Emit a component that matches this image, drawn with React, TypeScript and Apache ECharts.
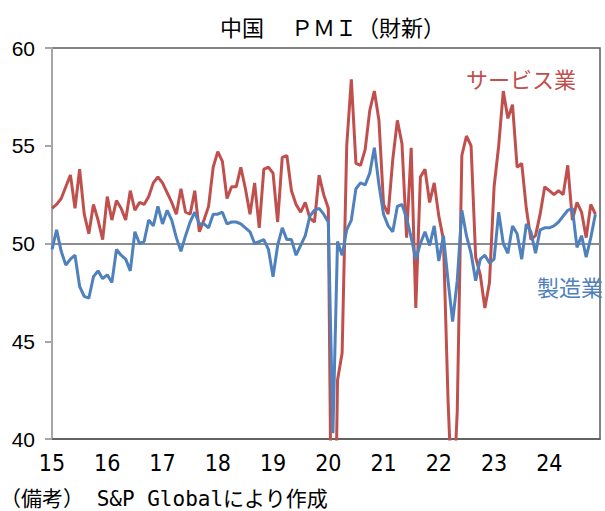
import React, { useEffect, useRef } from "react";
import * as echarts from "echarts";

// Years shown on the axis (first month of each year is labelled)
const years: number[] = [2015, 2016, 2017, 2018, 2019, 2020, 2021, 2022, 2023, 2024];
const monthNums: string[] = ["01", "02", "03", "04", "05", "06", "07", "08", "09", "10", "11", "12"];

// Caixin China PMI, Jan 2015 - Nov 2024
const manufacturing: number[] = [
  // 2015
  49.7, 50.7, 49.6, 48.9, 49.2, 49.4, 47.8, 47.3, 47.2, 48.3, 48.6, 48.2,
  // 2016
  48.4, 48.0, 49.7, 49.4, 49.2, 48.6, 50.6, 50.0, 50.1, 51.2, 50.9, 51.9,
  // 2017
  51.0, 51.7, 51.2, 50.3, 49.6, 50.4, 51.1, 51.6, 51.0, 51.0, 50.8, 51.5,
  // 2018
  51.5, 51.6, 51.0, 51.1, 51.1, 51.0, 50.8, 50.6, 50.0, 50.1, 50.2, 49.7,
  // 2019
  48.3, 49.9, 50.8, 50.2, 50.2, 49.4, 49.9, 50.4, 51.4, 51.7, 51.8, 51.5,
  // 2020
  51.1, 40.3, 50.1, 49.4, 50.7, 51.2, 52.8, 53.1, 53.0, 53.6, 54.9, 53.0,
  // 2021
  51.5, 50.9, 50.6, 51.9, 52.0, 51.3, 50.3, 49.2, 50.0, 50.6, 49.9, 50.9,
  // 2022
  49.1, 50.4, 48.1, 46.0, 48.1, 51.7, 50.4, 49.5, 48.1, 49.2, 49.4, 49.0,
  // 2023
  49.2, 51.6, 50.0, 49.5, 50.9, 50.5, 49.2, 51.0, 50.6, 49.5, 50.7, 50.8,
  // 2024
  50.8, 50.9, 51.1, 51.4, 51.7, 51.8, 49.8, 50.4, 49.3, 50.3, 51.5,
];

const services: number[] = [
  // 2015
  51.8, 52.0, 52.3, 52.9, 53.5, 51.8, 53.8, 51.5, 50.5, 52.0, 51.2, 50.2,
  // 2016
  52.4, 51.2, 52.2, 51.8, 51.2, 52.7, 51.7, 52.1, 52.0, 52.4, 53.1, 53.4,
  // 2017
  53.1, 52.6, 52.1, 51.5, 52.8, 51.6, 51.5, 52.7, 50.6, 51.2, 51.9, 53.9,
  // 2018
  54.7, 54.2, 52.3, 52.9, 52.9, 53.9, 52.8, 51.5, 53.1, 50.8, 53.8, 53.9,
  // 2019
  53.6, 51.1, 54.4, 54.5, 52.7, 52.0, 51.6, 52.1, 51.3, 51.1, 53.5, 52.5,
  // 2020
  51.8, 26.5, 43.0, 44.4, 55.0, 58.4, 54.1, 54.0, 54.8, 56.8, 57.8, 56.3,
  // 2021
  52.0, 51.5, 54.3, 56.3, 55.1, 50.3, 54.9, 46.7, 53.4, 53.8, 52.1, 53.1,
  // 2022
  51.4, 50.2, 42.0, 36.2, 41.4, 54.5, 55.5, 55.0, 49.3, 48.4, 46.7, 48.0,
  // 2023
  52.9, 55.0, 57.8, 56.4, 57.1, 53.9, 54.1, 51.8, 50.2, 50.4, 51.5, 52.9,
  // 2024
  52.7, 52.5, 52.7, 52.5, 54.0, 51.2, 52.1, 51.6, 50.3, 52.0, 51.5,
];

const referenceLevel = 50;

const categories: string[] = [];
years.forEach((y) => monthNums.forEach((m) => categories.push(`${y}-${m}`)));

const RED = "#C0504D";
const BLUE = "#4F81BD";

export default function App() {
  const ref = useRef<HTMLDivElement>(null);

  useEffect(() => {
    if (!ref.current) return;
    const chart = echarts.init(ref.current, undefined, { renderer: "svg" });
    chart.setOption({
      animation: false,
      backgroundColor: "#ffffff",
      grid: {
        left: 52,
        right: 5,
        top: 48,
        bottom: 72,
        show: true,
        borderColor: "#595959",
        borderWidth: 1.5,
        containLabel: false,
      },
      xAxis: {
        type: "category",
        data: categories,
        boundaryGap: false,
        axisLine: { show: true, lineStyle: { color: "#595959", width: 1.5 } },
        axisTick: { show: false },
        splitLine: { show: false },
        axisLabel: {
          interval: (_i: number, v: string) => v.endsWith("-01"),
          formatter: (v: string) => v.slice(2, 4),
          color: "#000",
          fontSize: 23,
          fontFamily: "'Liberation Sans Narrow', 'DejaVu Sans Condensed', sans-serif",
          margin: 12,
        },
      },
      yAxis: {
        type: "value",
        min: 40,
        max: 60,
        interval: 5,
        axisLine: { show: true, lineStyle: { color: "#A6A6A6", width: 2 } },
        axisTick: { show: true, inside: false, length: 7, lineStyle: { color: "#A6A6A6", width: 2 } },
        splitLine: { show: false },
        axisLabel: {
          color: "#000",
          fontSize: 21,
          fontFamily: "'Liberation Sans', Arial, sans-serif",
          margin: 17,
        },
      },
      series: [
        {
          name: "サービス業",
          type: "line",
          data: services,
          symbol: "none",
          clip: true,
          lineStyle: { color: RED, width: 3 },
          itemStyle: { color: RED },
          markLine: {
            z: 1,
            silent: true,
            symbol: ["none", "none"],
            label: { show: false },
            lineStyle: { color: "#8C8C8C", width: 2, type: "solid" },
            data: [{ yAxis: referenceLevel }],
          },
        },
        {
          name: "製造業",
          type: "line",
          data: manufacturing,
          symbol: "none",
          clip: true,
          lineStyle: { color: BLUE, width: 3 },
          itemStyle: { color: BLUE },
        },
      ],
      graphic: [
        {
          type: "text",
          x: 220,
          y: 26,
          style: {
            text: "中国　 ＰＭＩ（財新）",
            fontSize: 22,
            fontFamily: "'Noto Sans CJK JP', sans-serif",
            fill: "#000",
            align: "left",
            verticalAlign: "middle",
          },
        },
        {
          type: "text",
          x: 466,
          y: 78,
          style: {
            text: "サービス業",
            fontSize: 22,
            fontFamily: "'Noto Sans CJK JP', sans-serif",
            fill: RED,
            align: "left",
            verticalAlign: "middle",
          },
        },
        {
          type: "text",
          x: 537,
          y: 286,
          style: {
            text: "製造業",
            fontSize: 22,
            fontFamily: "'Noto Sans CJK JP', sans-serif",
            fill: BLUE,
            align: "left",
            verticalAlign: "middle",
          },
        },
        {
          type: "text",
          x: 0,
          y: 499,
          style: {
            text: "（備考） S&P Globalにより作成",
            fontSize: 21,
            fontFamily: "'DejaVu Sans Mono', 'Noto Sans CJK JP', monospace",
            fill: "#000",
            align: "left",
            verticalAlign: "middle",
          },
        },
      ],
    });
    return () => {
      chart.dispose();
    };
  }, []);

  return (
    <div
      ref={ref}
      style={{ position: "absolute", left: 0, top: 0, width: 605, height: 511 }}
    />
  );
}
